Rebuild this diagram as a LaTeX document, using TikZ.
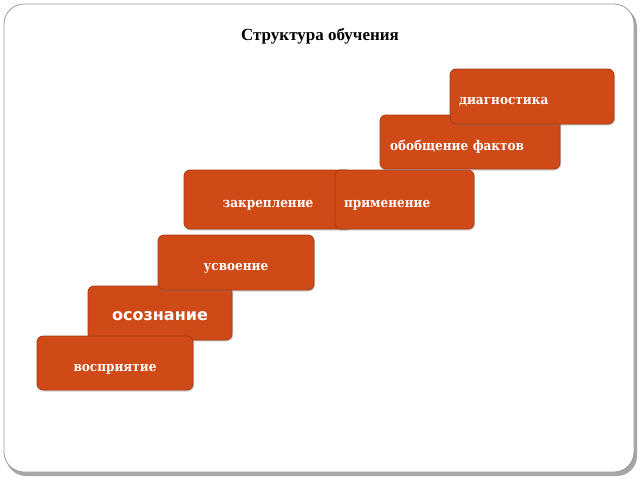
\documentclass[tikz,border=0pt]{standalone}
\usepackage{fontspec}
\setmainfont{DejaVu Serif}
\newfontfamily\titlefont{Liberation Serif}
\newfontfamily\boxfont{DejaVu Serif Condensed}
\newfontfamily\sansbox{DejaVu Sans}
\definecolor{boxfill}{HTML}{D04A18}
\definecolor{boxline}{HTML}{A63A12}
\definecolor{framec}{HTML}{9A9A9A}
\newcommand{\lowtext}[2][-5.5pt]{\raisebox{#1}[\height][\depth]{#2}}
\tikzset{
  stair/.style={rectangle, rounded corners=6pt, fill=boxfill, draw=boxline, line width=0.8pt,
    text=white, font=\boxfont\bfseries\fontsize{13.4}{15}\selectfont,
    drop shadow={shadow xshift=1pt, shadow yshift=-1.5pt, opacity=0.35}},
  leftstair/.style={stair, align=left, inner xsep=9pt},
}
\usetikzlibrary{shadows}
\begin{document}
\begin{tikzpicture}[x=1pt,y=-1pt]
\useasboundingbox (0,0) rectangle (640,480);
% frame
\fill[black!35, rounded corners=20pt] (6,7) rectangle (637,476);
\draw[framec, fill=white, line width=0.8pt, rounded corners=20pt] (4,4) rectangle (634,472);
\node[font=\titlefont\bfseries\fontsize{17}{19}\selectfont] (title) at (320,36) {Структура обучения};
% boxes (lower ones drawn first where covered)
\node[stair, minimum width=144pt, minimum height=54pt, font=\sansbox\bfseries\fontsize{16}{18}\selectfont] (osozn) at (160,313) {\lowtext[-3.5pt]{осознание}};
\node[stair, minimum width=156pt, minimum height=54pt] (vospr) at (115,363) {\lowtext[-6pt]{восприятие}};
\node[stair, minimum width=156pt, minimum height=55pt] (usv) at (236,262.5) {\lowtext[-6pt]{усвоение}};
\node[stair, minimum width=168pt, minimum height=59pt] (zakr) at (268,199.5) {\lowtext{закрепление}};
\node[leftstair, text width=121pt, minimum height=59pt] (prim) at (404.5,199.5) {\lowtext{применение}};
\node[leftstair, inner xsep=10pt, text width=160pt, minimum height=54pt] (obob) at (470,142) {\lowtext[-4.5pt]{обобщение фактов}};
\node[leftstair, text width=146pt, minimum height=55pt] (diag) at (532,96.5) {\lowtext[-5pt]{диагностика}};
\end{tikzpicture}
\end{document}
